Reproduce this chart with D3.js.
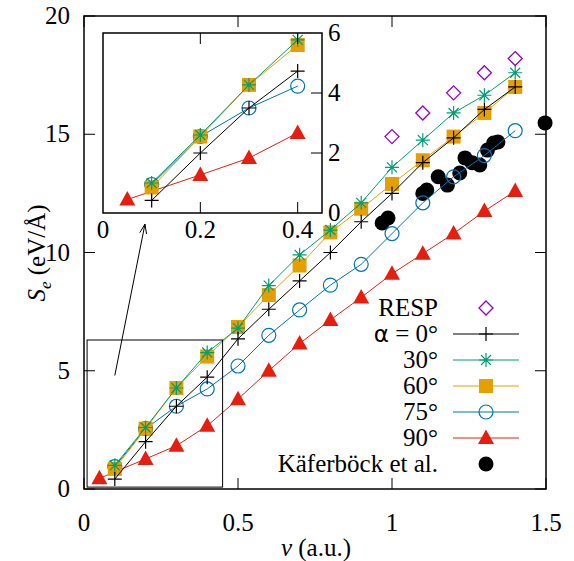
<!DOCTYPE html>
<html>
<head>
<meta charset="utf-8">
<script src="https://cdn.jsdelivr.net/npm/d3@7"></script>
</head>
<body style="margin:0">
<svg width="574" height="561"></svg>
<script>
// data
var velocity = [0.1, 0.2, 0.3, 0.4, 0.5, 0.6, 0.7, 0.8, 0.9, 1.0, 1.1, 1.2, 1.3, 1.4];
var alpha0  = [0.42, 2.0, 3.5, 4.73, 6.35, 7.6, 8.8, 10.0, 11.3, 12.5, 13.8, 14.85, 16.05, 17.0];
var alpha30 = [1.0, 2.6, 4.27, 5.77, 6.8, 8.6, 9.9, 10.95, 12.1, 13.6, 14.75, 15.9, 16.65, 17.6];
var alpha60 = [0.85, 2.55, 4.27, 5.6, 6.85, 8.2, 9.45, 10.85, 11.85, 12.9, 13.9, 14.9, 15.9, 17.0];
var alpha75 = [0.95, 2.55, 3.5, 4.23, 5.2, 6.5, 7.57, 8.62, 9.5, 10.8, 12.1, 13.2, 14.1, 15.15];
var velocity90 = [0.05, 0.2, 0.3, 0.4, 0.5, 0.6, 0.7, 0.8, 0.9, 1.0, 1.1, 1.2, 1.3, 1.4];
var alpha90 = [0.45, 1.27, 1.83, 2.67, 3.8, 5.0, 6.15, 7.15, 8.1, 9.1, 9.95, 10.8, 11.75, 12.6];
var respV = [1.0, 1.1, 1.2, 1.3, 1.4];
var respS = [14.9, 15.9, 16.75, 17.6, 18.2];
var kaferV = [0.968, 0.987, 1.10, 1.113, 1.15, 1.18, 1.22, 1.237, 1.26, 1.285, 1.31, 1.33, 1.344, 1.497];
var kaferS = [11.25, 11.46, 12.5, 12.64, 13.2, 12.85, 13.36, 14.0, 13.8, 13.7, 14.33, 14.63, 14.67, 15.48];

var xTicks = [0, 0.5, 1, 1.5];
var yTicks = [0, 5, 10, 15, 20];
var insetXTicks = [0, 0.2, 0.4];
var insetYTicks = [0, 2, 4, 6];
var legendLabels = ["RESP", "α = 0°", "30°", "60°", "75°", "90°", "Käferböck et al."];

var ff = "'Liberation Serif'";

function zip(xs, ys) { return xs.map(function(x, i) { return {v: x, s: ys[i]}; }); }

var series = [
  {name: "kafer", pts: zip(kaferV, kaferS), color: "#000", sym: "dot", line: false},
  {name: "90", pts: zip(velocity90, alpha90), color: "#e51e10", sym: "tri", line: true},
  {name: "75", pts: zip(velocity, alpha75), color: "#0072b2", sym: "circle", line: true},
  {name: "60", pts: zip(velocity, alpha60), color: "#e69f00", sym: "square", line: true},
  {name: "30", pts: zip(velocity, alpha30), color: "#009e73", sym: "star", line: true},
  {name: "0", pts: zip(velocity, alpha0), color: "#000", sym: "plus", line: true},
  {name: "resp", pts: zip(respV, respS), color: "#9400d3", sym: "diamond", line: false}
];
var legendOrder = ["resp", "0", "30", "60", "75", "90", "kafer"];

var svg = d3.select("svg");

function addText(g) {
  return g.append("text").style("font-family", ff).style("font-size", "25px");
}

function drawMarker(g, sym, color, x, y) {
  if (sym == "plus") {
    g.append("path").attr("d", "M" + (x-7) + "," + y + "h14M" + x + "," + (y-7) + "v14")
      .attr("stroke", color).attr("stroke-width", 1.2).attr("fill", "none");
  } else if (sym == "star") {
    g.append("path").attr("d", "M" + (x-7) + "," + y + "h14M" + x + "," + (y-7) + "v14" +
        "M" + (x-5) + "," + (y-5) + "l10,10M" + (x-5) + "," + (y+5) + "l10,-10")
      .attr("stroke", color).attr("stroke-width", 1.2).attr("fill", "none");
  } else if (sym == "square") {
    g.append("rect").attr("x", x-7).attr("y", y-7).attr("width", 14).attr("height", 14).attr("fill", color);
  } else if (sym == "circle") {
    g.append("circle").attr("cx", x).attr("cy", y).attr("r", 7)
      .attr("stroke", color).attr("stroke-width", 1.2).attr("fill", "none");
  } else if (sym == "tri") {
    g.append("path").attr("d", "M" + x + "," + (y-8.5) + "L" + (x+8) + "," + (y+6) + "L" + (x-8) + "," + (y+6) + "Z")
      .attr("fill", color);
  } else if (sym == "diamond") {
    g.append("path").attr("d", "M" + x + "," + (y-7) + "L" + (x+7) + "," + y + "L" + x + "," + (y+7) + "L" + (x-7) + "," + y + "Z")
      .attr("stroke", color).attr("stroke-width", 1.3).attr("fill", "none");
  } else if (sym == "dot") {
    g.append("circle").attr("cx", x).attr("cy", y).attr("r", 7.5).attr("fill", color);
  }
}

function drawSeries(g, x, y, list) {
  list.forEach(function(d) {
    if (d.line) {
      g.append("path").datum(d.pts)
        .attr("d", d3.line().x(function(p) { return x(p.v); }).y(function(p) { return y(p.s); }))
        .attr("stroke", d.color).attr("stroke-width", 1).attr("fill", "none");
    }
    d.pts.forEach(function(p) { drawMarker(g, d.sym, d.color, x(p.v), y(p.s)); });
  });
}

// main plot
var xScale = d3.scaleLinear().domain([0, 1.5]).range([84, 546]);
var yScale = d3.scaleLinear().domain([0, 20]).range([489, 16]);

var plot = svg.append("g");
drawSeries(plot, xScale, yScale, series);

// zoom box and arrow
plot.append("rect")
  .attr("x", xScale(0.01)).attr("y", yScale(6.3))
  .attr("width", xScale(0.45) - xScale(0.01)).attr("height", yScale(0.08) - yScale(6.3))
  .attr("fill", "none").attr("stroke", "#000").attr("stroke-width", 1);
var ax1 = xScale(0.1), ay1 = yScale(4.8), ax2 = xScale(0.198), ay2 = yScale(11.2);
var ang = Math.atan2(ay2 - ay1, ax2 - ax1);
plot.append("path")
  .attr("d", "M" + ax1 + "," + ay1 + "L" + ax2 + "," + ay2 +
    "M" + (ax2 - 10 * Math.cos(ang - 0.35)) + "," + (ay2 - 10 * Math.sin(ang - 0.35)) +
    "L" + ax2 + "," + ay2 +
    "L" + (ax2 - 10 * Math.cos(ang + 0.35)) + "," + (ay2 - 10 * Math.sin(ang + 0.35)))
  .attr("stroke", "#000").attr("stroke-width", 1).attr("fill", "none");

// main frame + ticks
plot.append("rect").attr("x", 84).attr("y", 16).attr("width", 462).attr("height", 473)
  .attr("fill", "none").attr("stroke", "#000").attr("stroke-width", 1.5);
xTicks.forEach(function(t) {
  plot.append("line").attr("x1", xScale(t)).attr("x2", xScale(t)).attr("y1", 489).attr("y2", 478).attr("stroke", "#000");
  plot.append("line").attr("x1", xScale(t)).attr("x2", xScale(t)).attr("y1", 16).attr("y2", 27).attr("stroke", "#000");
  addText(svg).attr("x", xScale(t)).attr("y", 531).attr("text-anchor", "middle").text(String(t));
});
yTicks.forEach(function(t) {
  plot.append("line").attr("x1", 84).attr("x2", 95).attr("y1", yScale(t)).attr("y2", yScale(t)).attr("stroke", "#000");
  plot.append("line").attr("x1", 546).attr("x2", 535).attr("y1", yScale(t)).attr("y2", yScale(t)).attr("stroke", "#000");
  addText(svg).attr("x", 70).attr("y", yScale(t) + 8).attr("text-anchor", "end").text(String(t));
});

// axis titles
var xt = addText(svg).attr("x", 316).attr("y", 556).attr("text-anchor", "middle");
xt.append("tspan").style("font-style", "italic").text("v");
xt.append("tspan").text(" (a.u.)");
var yt = addText(svg).attr("transform", "translate(45,253) rotate(-90)").attr("text-anchor", "middle");
yt.append("tspan").style("font-style", "italic").text("S");
yt.append("tspan").style("font-style", "italic").style("font-size", "17px").attr("dy", 6).text("e");
yt.append("tspan").attr("dy", -6).text(" (eV/Å)");

// legend
legendOrder.forEach(function(key, i) {
  var d = series.filter(function(s) { return s.name == key; })[0];
  var ly = 308 + i * 26;
  var t = addText(svg).attr("x", 438).attr("y", ly + 8).attr("text-anchor", "end");
  if (key == "0") {
    t.append("tspan").style("font-family", "'DejaVu Sans'").style("font-size", "23px").text("α");
    t.append("tspan").text(" = 0°");
  } else {
    t.text(legendLabels[i]);
  }
  if (d.line) {
    svg.append("line").attr("x1", 453).attr("x2", 519).attr("y1", ly).attr("y2", ly)
      .attr("stroke", d.color).attr("stroke-width", 1);
  }
  drawMarker(svg, d.sym, d.color, 486, ly);
});

// inset
var ix = d3.scaleLinear().domain([0, 0.45]).range([103, 322]);
var iy = d3.scaleLinear().domain([0, 6]).range([213, 33]);
var inset = svg.append("g");
inset.append("rect").attr("x", 103).attr("y", 33).attr("width", 219).attr("height", 180).attr("fill", "#fff");
var insetSeries = series.filter(function(s) { return s.line; }).map(function(s) {
  return {name: s.name, color: s.color, sym: s.sym, line: true,
          pts: s.pts.filter(function(p) { return p.v <= 0.4; })};
});
drawSeries(inset, ix, iy, insetSeries);
inset.append("rect").attr("x", 103).attr("y", 33).attr("width", 219).attr("height", 180)
  .attr("fill", "none").attr("stroke", "#000").attr("stroke-width", 1.5);
insetXTicks.forEach(function(t) {
  if (t > 0) {
    inset.append("line").attr("x1", ix(t)).attr("x2", ix(t)).attr("y1", 213).attr("y2", 202).attr("stroke", "#000");
    inset.append("line").attr("x1", ix(t)).attr("x2", ix(t)).attr("y1", 33).attr("y2", 44).attr("stroke", "#000");
  }
  addText(svg).attr("x", ix(t)).attr("y", 238).attr("text-anchor", "middle").text(String(t));
});
insetYTicks.forEach(function(t) {
  if (t > 0 && t < 6) {
    inset.append("line").attr("x1", 322).attr("x2", 311).attr("y1", iy(t)).attr("y2", iy(t)).attr("stroke", "#000");
  }
  addText(svg).attr("x", 328).attr("y", iy(t) + 8).attr("text-anchor", "start").text(String(t));
});
</script>
</body>
</html>
